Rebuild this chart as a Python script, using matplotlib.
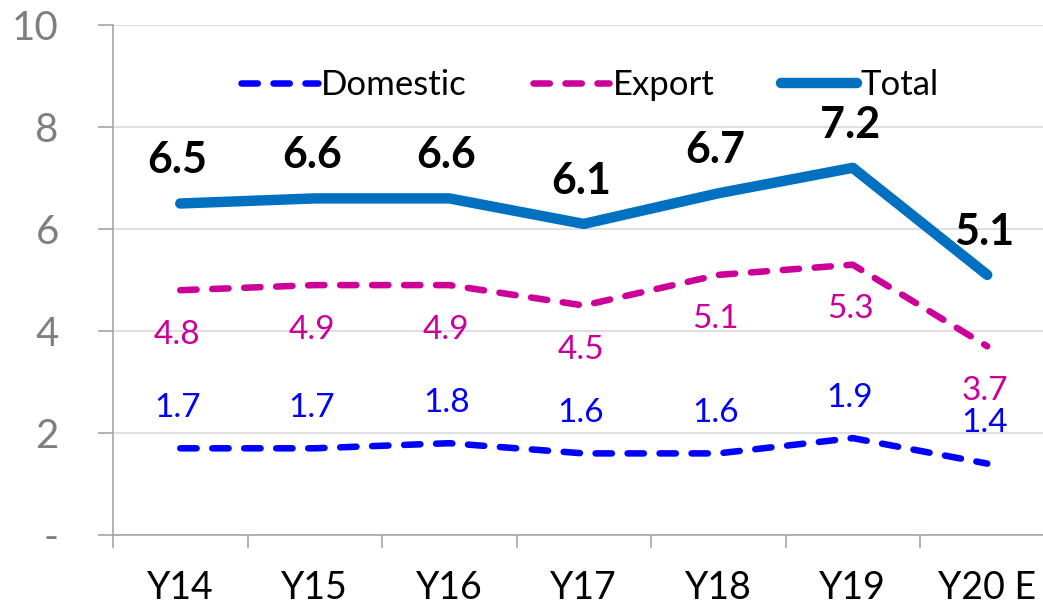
import matplotlib
matplotlib.use("Agg")
import matplotlib.pyplot as plt
from matplotlib.ticker import FixedLocator

plt.rcParams['font.family'] = ['Lato', 'DejaVu Sans']

categories = ["Y14", "Y15", "Y16", "Y17", "Y18", "Y19", "Y20 E"]
domestic = [1.7, 1.7, 1.8, 1.6, 1.6, 1.9, 1.4]
export = [4.8, 4.9, 4.9, 4.5, 5.1, 5.3, 3.7]
total = [6.5, 6.6, 6.6, 6.1, 6.7, 7.2, 5.1]
yticks = [0, 2, 4, 6, 8, 10]
ytick_labels = ["-", "2", "4", "6", "8", "10"]

c_dom = "#0000FF"
c_exp = "#CC0099"
c_tot = "#0070C0"

fig = plt.figure(figsize=(10.43, 6.05), dpi=100)
ax = fig.add_axes([113/1043, 1-535/605, 941.5/1043, 510/605])

x = list(range(len(categories)))

ax.plot(x, domestic, color=c_dom, lw=4.7, dashes=(2.5, 2.4),
        dash_capstyle='round', solid_capstyle='round', label="Domestic", zorder=3)
ax.plot(x, export, color=c_exp, lw=4.7, dashes=(2.5, 2.4),
        dash_capstyle='round', solid_capstyle='round', label="Export", zorder=3)
ax.plot(x, total, color=c_tot, lw=7.5, solid_capstyle='round',
        solid_joinstyle='round', label="Total", zorder=4)

for xi, v in zip(x, total):
    ax.annotate(f"{v:.1f}", (xi, v), xytext=(-2, 31), textcoords='offset points',
                ha='center', va='center', fontsize=31, fontweight='bold', color='black')
for xi, v in zip(x, export):
    ax.annotate(f"{v:.1f}", (xi, v), xytext=(-2, -32), textcoords='offset points',
                ha='center', va='center', fontsize=24, color=c_exp)
for xi, v in zip(x, domestic):
    ax.annotate(f"{v:.1f}", (xi, v), xytext=(-2, 29), textcoords='offset points',
                ha='center', va='center', fontsize=24, color=c_dom)

ax.set_xlim(-0.5, len(categories) - 0.5)
ax.set_ylim(0, 10)
ax.set_yticks(yticks)
ax.set_yticklabels(ytick_labels)
ax.set_xticks(x)
ax.set_xticklabels(categories)
ax.xaxis.set_minor_locator(FixedLocator([i - 0.5 for i in range(len(categories) + 1)]))

ax.grid(axis='y', color='#D9D9D9', lw=1.2, zorder=0)
ax.set_axisbelow(True)
for s in ['top', 'right']:
    ax.spines[s].set_visible(False)
for s in ['left', 'bottom']:
    ax.spines[s].set_color('#A6A6A6')
    ax.spines[s].set_linewidth(1.2)

ax.tick_params(axis='y', which='major', length=11, width=1.2, color='#A6A6A6',
               labelsize=29, labelcolor='#7F7F7F', pad=28)
ax.tick_params(axis='x', which='major', length=0, labelsize=27, labelcolor='black', pad=25)
ax.tick_params(axis='x', which='minor', length=9, width=1.2, color='#A6A6A6')

leg = ax.legend(loc='center', bbox_to_anchor=((590-113)/941.5, (535-85)/510),
                ncol=3, frameon=False, fontsize=25, handlelength=2.2,
                handletextpad=0.1, columnspacing=1.9)

fig.savefig("out.png", dpi=100)
